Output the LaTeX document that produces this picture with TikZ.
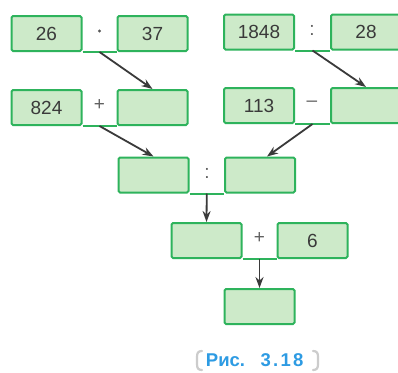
\documentclass[tikz,border=0pt]{standalone}
\usepackage{fontspec}
\setmainfont{Liberation Sans}
\usetikzlibrary{arrows.meta}
\definecolor{boxfill}{HTML}{CDEAC9}
\definecolor{boxline}{HTML}{2EB35C}
\definecolor{ink}{HTML}{3A3A3A}
\definecolor{capblue}{HTML}{2D9BE3}
\definecolor{capgray}{HTML}{CCCCCC}
\tikzset{
  cell/.style={draw=boxline, fill=boxfill, line width=2pt, rounded corners=1.5pt,
    minimum width=70pt, minimum height=35pt, inner sep=0pt,
    font=\fontsize{19}{19}\selectfont, text=ink},
  opsign/.style={font=\fontsize{19}{19}\selectfont, text=ink!80},
  joinline/.style={draw=boxline, line width=2pt},
  flow/.style={draw=ink, line width=1.8pt, -{Stealth[length=11pt,width=8pt]}},
  captext/.style={text=capblue, inner sep=0pt}
}
\begin{document}
\begin{tikzpicture}[x=1pt,y=-1pt]
\clip (0,0) rectangle (398,372);
\fill[white] (0,0) rectangle (398,372);
% first row
\node[cell] (a1) at (46.5,33.5) {26};
\node[cell] (b1) at (152.5,33.5) {37};
\fill[ink!85] (99.5,31) circle (1.6pt);
\node[cell] (c1) at (259,32) {1848};
\node[cell] (d1) at (366,32) {28};
\node[opsign] (o2) at (312,30) {:};
% second row
\node[cell] (a2) at (46.5,107.5) {824};
\node[cell] (b2) at (152.5,107.5) {};
\node[opsign] (o3) at (99.5,105) {+};
\node[cell] (c2) at (259,105.5) {113};
\node[cell] (d2) at (366,105.5) {};
\node[opsign] (o4) at (312,104) {–};
% third row
\node[cell] (e) at (153.5,175) {};
\node[cell] (f) at (260,175) {};
\node[opsign] (o5) at (207,173) {:};
% fourth row
\node[cell] (g) at (206.5,240.5) {};
\node[cell] (h) at (312.5,240.5) {6};
\node[opsign] (o6) at (259.5,238) {+};
% result
\node[cell] (r) at (259.5,306.5) {};
% bottom joins between paired cells
\draw[joinline] (a1.south east) -- coordinate (j1) (b1.south west);
\draw[joinline] (c1.south east) -- coordinate (j2) (d1.south west);
\draw[joinline] (a2.south east) -- coordinate (j3) (b2.south west);
\draw[joinline] (c2.south east) -- coordinate (j4) (d2.south west);
\draw[joinline] (e.south east) -- coordinate (j5) (f.south west);
\draw[joinline] (g.south east) -- coordinate (j6) (h.south west);
% arrows carrying results down
\draw[flow] (j1) -- (b2.north);
\draw[flow] (j2) -- (d2.north);
\draw[flow] (j3) -- (e.north);
\draw[flow] (j4) -- ([xshift=7pt]f.north);
\draw[flow] (j5) -- (g.north);
\draw[flow] (j6) -- (r.north);
% caption
\node[captext, font=\bfseries\fontsize{18.5}{18.5}\selectfont] (capa) at (225.5,360) {Рис.};
\node[captext, font=\bfseries\fontsize{18.5}{18.5}\selectfont\addfontfeature{LetterSpace=12}] (capb) at (282,360) {3.18};
\draw[capgray, line width=2.2pt, line cap=round] (202,351) .. controls (198,351) and (197,353) .. (197,357) -- (197,364) .. controls (197,368) and (198,370) .. (202,370);
\draw[capgray, line width=2.2pt, line cap=round] (313,351) .. controls (317,351) and (318,353) .. (318,357) -- (318,364) .. controls (318,368) and (317,370) .. (313,370);
\end{tikzpicture}
\end{document}
